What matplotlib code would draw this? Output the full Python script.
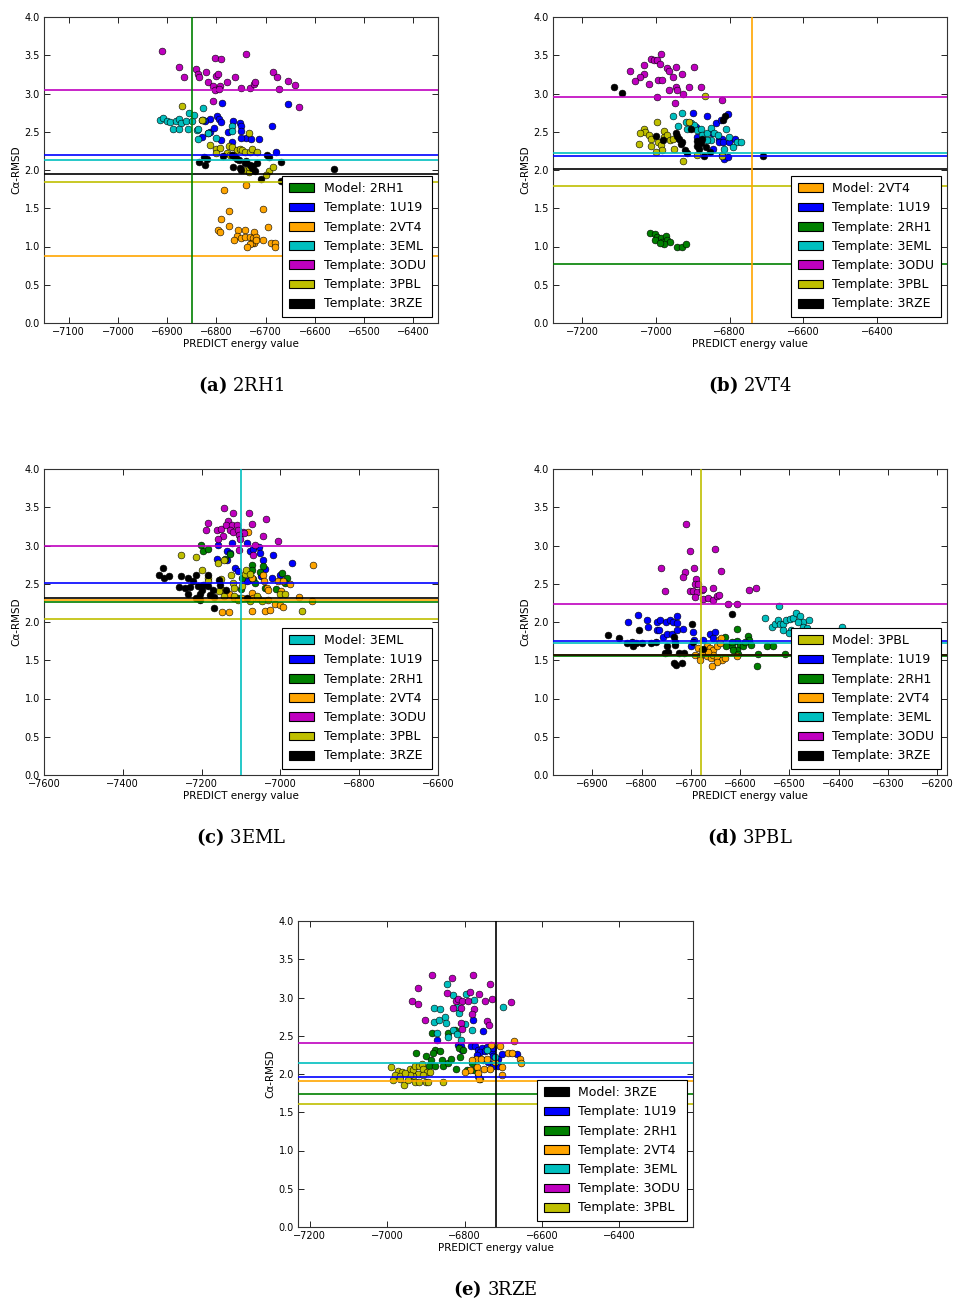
import matplotlib
matplotlib.use("Agg")
import matplotlib.pyplot as plt
from matplotlib.patches import Rectangle
from matplotlib.ticker import MultipleLocator, FormatStrFormatter

plt.rcParams['font.family'] = ['DejaVu Sans']
plt.rcParams['mathtext.fontset'] = 'dejavuserif'

COLORS = {'1U19': 'b', '2RH1': 'g', '2VT4': 'orange', '3EML': 'c',
          '3ODU': 'm', '3PBL': 'y', '3RZE': 'k'}

# ---------------- (a) model 2RH1 ----------------
a_model_energy = -6850
a_lines = {'1U19': 2.20, '2VT4': 0.88, '3EML': 2.13, '3ODU': 3.05, '3PBL': 1.84, '3RZE': 1.95}
a_1U19 = [(-6788, 2.87), (-6655, 2.86), (-6798, 2.70), (-6795, 2.67), (-6791, 2.63), (-6812, 2.67),
          (-6823, 2.64), (-6830, 2.66), (-6813, 2.50), (-6804, 2.55), (-6817, 2.49), (-6791, 2.39),
          (-6776, 2.50), (-6767, 2.64), (-6752, 2.62), (-6751, 2.57), (-6750, 2.51), (-6739, 2.42),
          (-6750, 2.42), (-6730, 2.41), (-6713, 2.41), (-6687, 2.58), (-6769, 2.36), (-6678, 2.24),
          (-6830, 2.43)]
a_2VT4 = [(-6785, 1.74), (-6740, 1.80), (-6775, 1.47), (-6705, 1.49), (-6791, 1.36), (-6775, 1.27),
          (-6797, 1.21), (-6793, 1.19), (-6756, 1.22), (-6741, 1.21), (-6723, 1.19), (-6696, 1.25),
          (-6759, 1.14), (-6764, 1.09), (-6749, 1.11), (-6742, 1.12), (-6732, 1.12), (-6725, 1.11),
          (-6720, 1.12), (-6723, 1.05), (-6728, 1.04), (-6732, 1.03), (-6720, 1.08), (-6738, 1.00),
          (-6705, 1.09), (-6689, 1.04), (-6681, 1.04), (-6680, 0.99)]
a_3EML = [(-6915, 2.66), (-6908, 2.68), (-6901, 2.64), (-6894, 2.63), (-6881, 2.64), (-6876, 2.67),
          (-6871, 2.62), (-6889, 2.53), (-6876, 2.54), (-6857, 2.54), (-6862, 2.64), (-6850, 2.64),
          (-6855, 2.75), (-6845, 2.72), (-6828, 2.81), (-6840, 2.52), (-6837, 2.53), (-6838, 2.41),
          (-6818, 2.48), (-6800, 2.42), (-6769, 2.57), (-6769, 2.51), (-6828, 2.66)]
a_3ODU = [(-6911, 3.55), (-6876, 3.34), (-6866, 3.21), (-6842, 3.32), (-6838, 3.25), (-6835, 3.21),
          (-6822, 3.28), (-6802, 3.46), (-6791, 3.45), (-6800, 3.23), (-6796, 3.25), (-6816, 3.15),
          (-6807, 3.10), (-6802, 3.05), (-6792, 3.10), (-6794, 3.06), (-6778, 3.15), (-6762, 3.22),
          (-6739, 3.51), (-6749, 3.07), (-6731, 3.07), (-6723, 3.12), (-6721, 3.15), (-6685, 3.28),
          (-6676, 3.22), (-6673, 3.06), (-6655, 3.16), (-6640, 3.11), (-6632, 2.82), (-6806, 2.90)]
a_3PBL = [(-6869, 2.84), (-6829, 2.66), (-6813, 2.33), (-6800, 2.27), (-6793, 2.29), (-6801, 2.22),
          (-6775, 2.32), (-6768, 2.30), (-6779, 2.22), (-6759, 2.26), (-6752, 2.28), (-6747, 2.26),
          (-6741, 2.24), (-6732, 2.24), (-6727, 2.27), (-6717, 2.23), (-6734, 1.98), (-6694, 1.99),
          (-6699, 1.94), (-6686, 2.04), (-6734, 2.04), (-6745, 2.00), (-6766, 2.20), (-6772, 2.19),
          (-6733, 2.48)]
a_3RZE = [(-6826, 2.17), (-6820, 2.14), (-6835, 2.10), (-6823, 2.07), (-6787, 2.18), (-6769, 2.20),
          (-6762, 2.17), (-6759, 2.15), (-6755, 2.13), (-6767, 2.04), (-6752, 2.03), (-6749, 2.00),
          (-6742, 2.09), (-6739, 2.12), (-6732, 2.06), (-6725, 2.05), (-6728, 2.03), (-6722, 1.99),
          (-6718, 2.09), (-6709, 1.88), (-6698, 2.20), (-6694, 2.17), (-6669, 2.10), (-6669, 1.85),
          (-6661, 1.83), (-6561, 2.01)]

# ---------------- (b) model 2VT4 ----------------
b_model_energy = -6740
b_lines = {'1U19': 2.18, '2RH1': 0.77, '3EML': 2.22, '3ODU': 2.95, '3PBL': 1.79, '3RZE': 2.01}
b_1U19 = [(-6899, 2.75), (-6862, 2.70), (-6838, 2.62), (-6824, 2.66), (-6806, 2.73), (-6847, 2.48),
          (-6829, 2.41), (-6820, 2.41), (-6829, 2.36), (-6817, 2.36), (-6802, 2.36), (-6786, 2.41),
          (-6845, 2.28), (-6822, 2.20), (-6815, 2.14), (-6806, 2.17), (-6893, 2.56), (-6888, 2.43)]
b_2RH1 = [(-7017, 1.17), (-7003, 1.16), (-6997, 1.13), (-6986, 1.11), (-6974, 1.14), (-7002, 1.08),
          (-6983, 1.06), (-6970, 1.08), (-6961, 1.06), (-6979, 1.03), (-6943, 0.99), (-6929, 0.99),
          (-6920, 1.03), (-6990, 1.05)]
b_3EML = [(-6953, 2.71), (-6929, 2.75), (-6941, 2.57), (-6918, 2.63), (-6906, 2.61), (-6897, 2.59),
          (-6915, 2.53), (-6888, 2.52), (-6877, 2.53), (-6874, 2.46), (-6861, 2.49), (-6850, 2.55),
          (-6843, 2.48), (-6833, 2.46), (-6811, 2.54), (-6802, 2.43), (-6779, 2.37), (-6770, 2.37),
          (-6790, 2.30), (-6815, 2.28), (-6852, 2.39), (-6861, 2.39)]
b_3ODU = [(-6988, 3.51), (-7015, 3.45), (-7006, 3.44), (-6997, 3.44), (-6990, 3.39), (-7033, 3.37),
          (-7072, 3.30), (-7033, 3.25), (-7044, 3.22), (-7058, 3.16), (-7020, 3.13), (-6995, 3.18),
          (-6985, 3.18), (-6970, 3.33), (-6964, 3.30), (-6947, 3.35), (-6953, 3.22), (-6929, 3.25),
          (-6896, 3.35), (-6965, 3.05), (-6947, 3.08), (-6943, 3.05), (-6926, 3.00), (-6910, 3.08),
          (-6879, 3.09), (-6998, 2.95), (-6950, 2.88), (-6822, 2.92)]
b_3PBL = [(-6997, 2.63), (-7032, 2.53), (-7029, 2.50), (-7043, 2.48), (-7020, 2.46), (-7015, 2.41),
          (-6979, 2.51), (-6979, 2.43), (-6970, 2.46), (-6961, 2.39), (-6953, 2.40), (-6995, 2.37),
          (-6988, 2.33), (-7013, 2.31), (-7047, 2.34), (-6983, 2.26), (-6999, 2.24), (-6952, 2.28),
          (-6927, 2.12), (-6911, 2.63), (-6868, 2.97), (-6890, 2.20), (-6822, 2.18)]
b_3RZE = [(-7114, 3.08), (-7092, 3.01), (-6709, 2.18), (-6999, 2.45), (-6981, 2.39), (-6947, 2.48),
          (-6944, 2.44), (-6938, 2.40), (-6929, 2.37), (-6932, 2.34), (-6922, 2.26), (-6915, 2.22),
          (-6906, 2.53), (-6888, 2.38), (-6888, 2.31), (-6883, 2.27), (-6874, 2.41), (-6870, 2.18),
          (-6865, 2.30), (-6854, 2.23), (-6879, 2.35), (-6817, 2.66), (-6813, 2.70)]

# ---------------- (c) model 3EML ----------------
c_model_energy = -7100
c_lines = {'1U19': 2.51, '2RH1': 2.26, '2VT4': 2.29, '3ODU': 3.00, '3PBL': 2.04, '3RZE': 2.31}
c_1U19 = [(-7124, 3.03), (-7086, 3.03), (-7158, 3.01), (-7136, 2.93), (-7128, 2.90), (-7077, 2.93),
          (-7069, 2.95), (-7054, 2.98), (-7052, 2.90), (-7020, 2.88), (-7043, 2.81), (-7039, 2.69),
          (-7162, 2.83), (-7136, 2.81), (-7115, 2.71), (-7107, 2.67), (-7081, 2.64), (-7077, 2.55),
          (-7086, 2.53), (-7022, 2.57), (-7001, 2.61), (-6971, 2.77), (-7048, 2.60)]
c_2RH1 = [(-7196, 2.93), (-7183, 2.95), (-7202, 3.01), (-7128, 2.89), (-7141, 2.82), (-7071, 2.74),
          (-7073, 2.68), (-7052, 2.66), (-7043, 2.73), (-7098, 2.57), (-7069, 2.56), (-7065, 2.51),
          (-7039, 2.45), (-7010, 2.43), (-6997, 2.64), (-6982, 2.57), (-6988, 2.51), (-7101, 2.43),
          (-7107, 2.31)]
c_2VT4 = [(-7083, 3.18), (-6916, 2.74), (-7073, 2.58), (-7043, 2.61), (-7042, 2.53), (-7033, 2.44),
          (-7031, 2.42), (-7005, 2.53), (-6993, 2.54), (-6976, 2.50), (-6999, 2.41), (-7073, 2.38),
          (-7069, 2.32), (-7056, 2.31), (-7130, 2.37), (-7119, 2.32), (-7098, 2.32), (-7147, 2.13),
          (-7130, 2.13), (-7071, 2.15), (-7039, 2.15), (-7026, 2.16), (-7014, 2.24), (-7001, 2.22),
          (-6993, 2.19), (-6953, 2.33), (-6921, 2.27), (-7031, 2.29)]
c_3ODU = [(-7143, 3.49), (-7121, 3.42), (-7079, 3.43), (-7037, 3.34), (-7132, 3.32), (-7185, 3.30),
          (-7189, 3.20), (-7160, 3.20), (-7151, 3.21), (-7139, 3.27), (-7124, 3.27), (-7109, 3.27),
          (-7128, 3.20), (-7120, 3.17), (-7107, 3.20), (-7096, 3.17), (-7092, 3.16), (-7106, 3.14),
          (-7145, 3.13), (-7158, 3.09), (-7103, 3.08), (-7071, 3.28), (-7043, 3.13), (-7005, 3.06),
          (-7065, 3.01), (-7104, 2.94), (-7070, 2.88)]
c_3PBL = [(-7253, 2.87), (-7214, 2.85), (-7200, 2.68), (-7183, 2.57), (-7158, 2.77), (-7143, 2.81),
          (-7125, 2.61), (-7121, 2.51), (-7152, 2.56), (-7183, 2.53), (-7149, 2.42), (-7155, 2.41),
          (-7143, 2.34), (-7119, 2.44), (-7118, 2.34), (-7108, 2.29), (-7098, 2.47), (-7090, 2.63),
          (-7087, 2.68), (-7077, 2.63), (-7077, 2.27), (-7060, 2.34), (-7046, 2.27), (-7001, 2.36),
          (-6988, 2.37), (-6946, 2.14)]
c_3RZE = [(-7297, 2.71), (-7308, 2.61), (-7295, 2.57), (-7283, 2.60), (-7253, 2.60), (-7235, 2.57),
          (-7215, 2.61), (-7221, 2.53), (-7257, 2.46), (-7242, 2.45), (-7229, 2.46), (-7208, 2.47),
          (-7196, 2.48), (-7183, 2.47), (-7200, 2.42), (-7204, 2.37), (-7214, 2.32), (-7204, 2.29),
          (-7234, 2.37), (-7170, 2.42), (-7153, 2.48), (-7155, 2.55), (-7183, 2.61), (-7179, 2.35),
          (-7168, 2.33), (-7138, 2.42), (-7086, 2.31), (-7168, 2.18)]

# ---------------- (d) model 3PBL ----------------
d_model_energy = -6680
d_lines = {'1U19': 1.75, '2RH1': 1.55, '2VT4': 1.57, '3EML': 1.73, '3ODU': 2.24, '3RZE': 1.57}
d_1U19 = [(-6827, 2.00), (-6807, 2.09), (-6790, 2.02), (-6788, 1.94), (-6768, 2.00), (-6763, 2.03),
          (-6751, 2.00), (-6742, 2.03), (-6736, 2.00), (-6728, 2.08), (-6728, 1.99), (-6768, 1.90),
          (-6764, 1.89), (-6757, 1.81), (-6749, 1.84), (-6739, 1.84), (-6728, 1.90), (-6717, 1.91),
          (-6695, 1.87), (-6694, 1.76), (-6699, 1.69), (-6675, 1.76), (-6661, 1.84), (-6651, 1.87),
          (-6655, 1.79)]
d_2RH1 = [(-6631, 1.81), (-6606, 1.91), (-6607, 1.75), (-6601, 1.70), (-6617, 1.68), (-6628, 1.69),
          (-6594, 1.68), (-6584, 1.82), (-6582, 1.76), (-6577, 1.70), (-6590, 1.74), (-6607, 1.64),
          (-6614, 1.63), (-6563, 1.58), (-6546, 1.68), (-6533, 1.69), (-6509, 1.58), (-6565, 1.42),
          (-6604, 1.58), (-6617, 1.74)]
d_2VT4 = [(-6685, 1.66), (-6678, 1.64), (-6668, 1.68), (-6661, 1.66), (-6655, 1.63), (-6648, 1.68),
          (-6642, 1.77), (-6638, 1.79), (-6641, 1.72), (-6692, 1.57), (-6682, 1.56), (-6675, 1.59),
          (-6668, 1.55), (-6660, 1.53), (-6655, 1.57), (-6648, 1.53), (-6636, 1.50), (-6631, 1.53),
          (-6646, 1.48), (-6658, 1.43), (-6607, 1.55), (-6682, 1.50), (-6665, 1.61)]
d_3EML = [(-6521, 2.21), (-6550, 2.05), (-6536, 1.94), (-6530, 1.98), (-6523, 2.02), (-6519, 1.98),
          (-6513, 1.98), (-6506, 2.03), (-6499, 2.04), (-6492, 2.05), (-6487, 2.12), (-6479, 2.08),
          (-6472, 2.00), (-6460, 2.03), (-6514, 1.90), (-6496, 1.90), (-6473, 1.94), (-6465, 1.92),
          (-6471, 1.86), (-6459, 1.84), (-6442, 1.86), (-6500, 1.86), (-6394, 1.94), (-6482, 2.00)]
d_3ODU = [(-6709, 3.28), (-6701, 2.93), (-6652, 2.95), (-6761, 2.71), (-6711, 2.65), (-6716, 2.59),
          (-6694, 2.71), (-6638, 2.67), (-6689, 2.56), (-6692, 2.50), (-6685, 2.50), (-6702, 2.41),
          (-6695, 2.40), (-6687, 2.39), (-6678, 2.42), (-6675, 2.43), (-6692, 2.33), (-6675, 2.30),
          (-6666, 2.32), (-6656, 2.44), (-6655, 2.29), (-6648, 2.34), (-6642, 2.35), (-6753, 2.41),
          (-6624, 2.23), (-6607, 2.23), (-6582, 2.42), (-6567, 2.44)]
d_3RZE = [(-6869, 1.83), (-6846, 1.79), (-6830, 1.73), (-6820, 1.74), (-6817, 1.68), (-6811, 1.72),
          (-6799, 1.73), (-6805, 1.90), (-6780, 1.72), (-6771, 1.74), (-6748, 1.69), (-6746, 1.61),
          (-6753, 1.59), (-6734, 1.81), (-6732, 1.74), (-6732, 1.70), (-6734, 1.46), (-6730, 1.44),
          (-6719, 1.47), (-6724, 1.59), (-6713, 1.60), (-6698, 1.97), (-6695, 1.74), (-6675, 1.65),
          (-6617, 2.10)]

# ---------------- (e) model 3RZE ----------------
e_model_energy = -6718
e_lines = {'1U19': 1.96, '2RH1': 1.74, '2VT4': 1.91, '3EML': 2.15, '3ODU': 2.40, '3PBL': 1.61}
e_1U19 = [(-6872, 2.44), (-6816, 2.38), (-6809, 2.37), (-6777, 2.71), (-6751, 2.56), (-6784, 2.36),
          (-6773, 2.37), (-6764, 2.32), (-6756, 2.34), (-6760, 2.29), (-6747, 2.30), (-6769, 2.25),
          (-6741, 2.35), (-6730, 2.29), (-6726, 2.34), (-6726, 2.23), (-6713, 2.20), (-6702, 2.26),
          (-6739, 2.16), (-6751, 2.18), (-6713, 2.10), (-6726, 2.10), (-6664, 2.26), (-6807, 2.31)]
e_2RH1 = [(-6883, 2.54), (-6842, 2.53), (-6824, 2.57), (-6926, 2.27), (-6899, 2.23), (-6887, 2.18),
          (-6876, 2.32), (-6863, 2.30), (-6882, 2.27), (-6859, 2.18), (-6855, 2.11), (-6842, 2.14),
          (-6835, 2.19), (-6822, 2.07), (-6812, 2.22), (-6813, 2.34), (-6803, 2.32), (-6793, 2.05),
          (-6781, 2.14), (-6775, 2.05), (-6891, 2.10), (-6876, 2.10), (-6764, 1.97), (-6760, 1.94)]
e_2VT4 = [(-6672, 2.43), (-6732, 2.38), (-6708, 2.36), (-6689, 2.27), (-6677, 2.27), (-6658, 2.20),
          (-6654, 2.14), (-6704, 2.09), (-6704, 1.99), (-6771, 2.19), (-6781, 2.18), (-6758, 2.19),
          (-6749, 2.07), (-6734, 2.07), (-6769, 2.09), (-6763, 1.94), (-6786, 2.05), (-6799, 2.02),
          (-6743, 2.19), (-6766, 2.01), (-6721, 2.16)]
e_3EML = [(-6846, 3.18), (-6796, 3.05), (-6775, 2.97), (-6831, 3.03), (-6880, 2.86), (-6863, 2.85),
          (-6879, 2.68), (-6865, 2.71), (-6850, 2.75), (-6848, 2.67), (-6820, 2.88), (-6814, 2.80),
          (-6799, 2.66), (-6781, 2.58), (-6831, 2.58), (-6842, 2.48), (-6820, 2.52), (-6810, 2.45),
          (-6872, 2.54), (-6700, 2.88), (-6741, 2.31), (-6721, 2.22)]
e_3ODU = [(-6885, 3.30), (-6833, 3.26), (-6778, 3.29), (-6919, 3.13), (-6734, 3.18), (-6846, 3.06),
          (-6787, 3.07), (-6762, 3.05), (-6936, 2.96), (-6919, 2.91), (-6822, 2.95), (-6816, 2.98),
          (-6807, 2.95), (-6790, 2.95), (-6747, 2.96), (-6730, 2.98), (-6680, 2.94), (-6829, 2.86),
          (-6810, 2.86), (-6775, 2.85), (-6781, 2.79), (-6902, 2.71), (-6809, 2.67), (-6743, 2.69),
          (-6738, 2.64), (-6807, 2.59)]
e_3PBL = [(-6990, 2.09), (-6972, 2.04), (-6962, 2.03), (-6979, 1.99), (-6966, 1.97), (-6985, 1.92),
          (-6966, 1.93), (-6956, 1.86), (-6942, 2.06), (-6934, 2.05), (-6928, 2.10), (-6917, 2.10),
          (-6911, 2.13), (-6908, 2.06), (-6898, 2.03), (-6889, 2.03), (-6919, 2.00), (-6932, 1.97),
          (-6942, 1.99), (-6947, 1.92), (-6929, 1.89), (-6917, 1.90), (-6900, 1.90), (-6895, 1.90),
          (-6856, 1.89), (-6954, 2.01), (-6908, 1.99)]

# ---------------- figure layout ----------------
W, H = 957, 1301
fig = plt.figure(figsize=(W / 100, H / 100), dpi=100)


def px_rect(x0, y0, x1, y1):
    return [x0 / W, 1 - y1 / H, (x1 - x0) / W, (y1 - y0) / H]


panels = [
    dict(tag='a', model='2RH1', energy=a_model_energy, lines=a_lines,
         points={'1U19': a_1U19, '2VT4': a_2VT4, '3EML': a_3EML, '3ODU': a_3ODU,
                 '3PBL': a_3PBL, '3RZE': a_3RZE},
         rect=(44, 17, 438, 323), xlim=(-7150, -6350), step=100, cap=(241, 385)),
    dict(tag='b', model='2VT4', energy=b_model_energy, lines=b_lines,
         points={'1U19': b_1U19, '2RH1': b_2RH1, '3EML': b_3EML, '3ODU': b_3ODU,
                 '3PBL': b_3PBL, '3RZE': b_3RZE},
         rect=(553, 17, 947, 323), xlim=(-7280, -6210), step=200, cap=(750, 385)),
    dict(tag='c', model='3EML', energy=c_model_energy, lines=c_lines,
         points={'1U19': c_1U19, '2RH1': c_2RH1, '2VT4': c_2VT4, '3ODU': c_3ODU,
                 '3PBL': c_3PBL, '3RZE': c_3RZE},
         rect=(44, 469, 438, 775), xlim=(-7600, -6600), step=200, cap=(241, 837)),
    dict(tag='d', model='3PBL', energy=d_model_energy, lines=d_lines,
         points={'1U19': d_1U19, '2RH1': d_2RH1, '2VT4': d_2VT4, '3EML': d_3EML,
                 '3ODU': d_3ODU, '3RZE': d_3RZE},
         rect=(553, 469, 947, 775), xlim=(-6980, -6180), step=100, cap=(750, 837)),
    dict(tag='e', model='3RZE', energy=e_model_energy, lines=e_lines,
         points={'1U19': e_1U19, '2RH1': e_2RH1, '2VT4': e_2VT4, '3EML': e_3EML,
                 '3ODU': e_3ODU, '3PBL': e_3PBL},
         rect=(298, 921, 693, 1227), xlim=(-7230, -6210), step=200, cap=(495, 1289)),
]

for p in panels:
    ax = fig.add_axes(px_rect(*p['rect']))
    handles = [Rectangle((0, 0), 1, 1, facecolor=COLORS[p['model']], edgecolor='black', lw=0.8)]
    labels = ['Model: %s' % p['model']]
    for name, pts in p['points'].items():
        xs = [q[0] for q in pts]
        ys = [q[1] for q in pts]
        ax.scatter(xs, ys, s=24, c=COLORS[name], edgecolors='black', linewidths=0.4, zorder=2)
    for name, val in p['lines'].items():
        ax.axhline(val, color=COLORS[name], lw=1.2, zorder=3)
        handles.append(Rectangle((0, 0), 1, 1, facecolor=COLORS[name], edgecolor='black', lw=0.8))
        labels.append('Template: %s' % name)
    ax.axvline(p['energy'], color=COLORS[p['model']], lw=1.2, zorder=3)

    ax.set_xlim(*p['xlim'])
    ax.set_ylim(0, 4)
    ax.xaxis.set_major_locator(MultipleLocator(p['step']))
    ax.yaxis.set_major_locator(MultipleLocator(0.5))
    ax.yaxis.set_major_formatter(FormatStrFormatter('%.1f'))
    ax.tick_params(direction='in', top=True, right=True, length=4, width=0.6,
                   labelsize=7, pad=3)
    for sp in ax.spines.values():
        sp.set_linewidth(0.8)
        sp.set_color('#333333')
    ax.set_xlabel('PREDICT energy value', fontsize=7.5, labelpad=1)
    ax.set_ylabel('Cα-RMSD', fontsize=7.5, labelpad=2)

    leg = ax.legend(handles, labels, loc='lower right', fontsize=9, fancybox=False,
                    framealpha=1, edgecolor='black', handlelength=2.0, borderpad=0.5,
                    labelspacing=0.5)
    leg.get_frame().set_linewidth(0.8)
    leg.set_zorder(5)

    cx, cy = p['cap']
    fig.text(cx / W, 1 - cy / H, r'$\mathbf{(%s)}$ %s' % (p['tag'], p['model']),
             ha='center', va='center', fontsize=13, family='DejaVu Serif')

fig.savefig('out.png', dpi=100)
